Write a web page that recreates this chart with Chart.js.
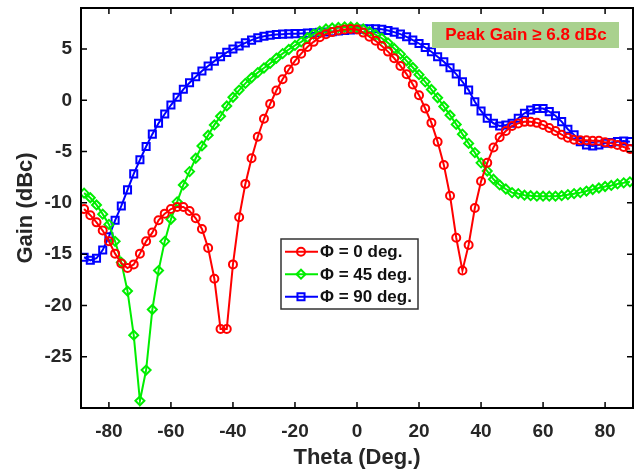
<!DOCTYPE html>
<html>
<head>
<meta charset="utf-8">
<script src="https://cdn.jsdelivr.net/npm/chart.js@4/dist/chart.umd.min.js"></script>
<style>
  body { margin: 0; background: #fff; }
  canvas { display: block; }
</style>
</head>
<body>
<canvas id="gainChart" width="643" height="475"></canvas>
<script>
var theta = [-88, -86, -84, -82, -80, -78, -76, -74, -72, -70, -68, -66, -64, -62, -60, -58, -56, -54, -52, -50,
    -48, -46, -44, -42, -40, -38, -36, -34, -32, -30, -28, -26, -24, -22, -20, -18, -16, -14, -12, -10,
    -8, -6, -4, -2, 0, 2, 4, 6, 8, 10, 12, 14, 16, 18, 20, 22, 24, 26, 28, 30,
    32, 34, 36, 38, 40, 42, 44, 46, 48, 50, 52, 54, 56, 58, 60, 62, 64, 66, 68, 70,
    72, 74, 76, 78, 80, 82, 84, 86, 88];

var gainPhi0 = [-10.6, -11.2, -11.9, -12.7, -13.75, -14.95, -15.9, -16.35, -16.0, -14.95, -13.75, -12.9, -11.7, -11.05, -10.6, -10.4, -10.4, -10.8, -11.5, -12.55,
    -14.4, -17.4, -22.3, -22.3, -16.0, -11.4, -8.15, -5.65, -3.55, -1.8, -0.35, 0.95, 2.05, 3.0, 3.85, 4.55, 5.2, 5.7, 6.15, 6.45,
    6.65, 6.8, 6.9, 6.95, 6.9, 6.6, 6.2, 5.8, 5.3, 4.75, 4.1, 3.35, 2.55, 1.55, 0.5, -0.8, -2.2, -4.05, -6.3, -9.3,
    -13.4, -16.6, -14.1, -10.5, -7.9, -6.1, -4.6, -3.6, -3.0, -2.5, -2.25, -2.1, -2.1, -2.2, -2.4, -2.7, -3.0, -3.35, -3.65, -3.85,
    -3.9, -3.9, -3.95, -3.95, -4.1, -4.2, -4.35, -4.55, -4.75];

var gainPhi45 = [-9.05, -9.5, -10.2, -11.1, -12.1, -13.75, -15.8, -18.6, -22.9, -29.3, -26.3, -20.4, -16.6, -13.75, -11.6, -9.9, -8.25, -6.95, -5.65, -4.45,
    -3.4, -2.4, -1.55, -0.55, 0.3, 1.0, 1.65, 2.2, 2.7, 3.15, 3.6, 4.1, 4.55, 4.95, 5.35, 5.7, 6.1, 6.45, 6.75, 6.95,
    7.05, 7.1, 7.15, 7.15, 7.1, 6.95, 6.7, 6.4, 6.05, 5.6, 5.05, 4.5, 3.85, 3.2, 2.5, 1.8, 1.05, 0.25, -0.6, -1.45,
    -2.35, -3.3, -4.2, -5.1, -6.1, -6.9, -7.7, -8.25, -8.65, -9.0, -9.1, -9.25, -9.3, -9.35, -9.35, -9.35, -9.35, -9.3, -9.2, -9.1,
    -9.0, -8.85, -8.7, -8.55, -8.4, -8.3, -8.15, -8.05, -7.95];

var gainPhi90 = [-15.3, -15.6, -15.4, -14.6, -13.3, -11.7, -10.3, -8.73, -7.17, -5.8, -4.5, -3.3, -2.24, -1.33, -0.46, 0.29, 1.07, 1.71, 2.3, 2.85,
    3.34, 3.82, 4.24, 4.67, 5.0, 5.3, 5.6, 5.87, 6.1, 6.25, 6.35, 6.42, 6.45, 6.48, 6.5, 6.52, 6.55, 6.58, 6.62, 6.66,
    6.7, 6.75, 6.8, 6.85, 6.9, 6.95, 6.98, 6.98, 6.92, 6.8, 6.65, 6.45, 6.19, 5.87, 5.54, 5.15, 4.73, 4.24, 3.76, 3.17,
    2.56, 1.81, 1.0, -0.14, -1.04, -1.75, -2.24, -2.5, -2.4, -2.24, -1.75, -1.27, -0.94, -0.8, -0.8, -1.1, -1.5, -2.08, -2.82, -3.37,
    -4.03, -4.35, -4.45, -4.35, -4.19, -4.12, -4.03, -3.96, -4.03];

var xTicks = [-80, -60, -40, -20, 0, 20, 40, 60, 80];
var yTicks = [-25, -20, -15, -10, -5, 0, 5];
var seriesNames = ['Φ = 0 deg.', 'Φ = 45 deg.', 'Φ = 90 deg.'];
var noteText = 'Peak Gain ≥ 6.8 dBc';

var FONT = '"Liberation Sans", Arial, sans-serif';

function toPoints(ys) {
    return ys.map(function(y, i) { return { x: theta[i], y: y }; });
}

function series(label, ys, color, style, radius) {
    return {
        label: label,
        data: toPoints(ys),
        borderColor: color,
        borderWidth: 2,
        pointStyle: style,
        pointRadius: radius,
        pointBorderWidth: 2,
        pointBorderColor: color,
        pointBackgroundColor: 'rgba(255,255,255,0)',
        tension: 0
    };
}

// box with inward ticks, legend inside the plot and the note box
var decorations = {
    id: 'decorations',
    afterDraw: function(chart) {
        var ctx = chart.ctx;
        var a = chart.chartArea;
        var xs = chart.scales.x, ys = chart.scales.y;
        ctx.save();
        ctx.strokeStyle = '#000';
        ctx.lineWidth = 1.5;
        xTicks.forEach(function(v) {
            var px = xs.getPixelForValue(v);
            ctx.beginPath();
            ctx.moveTo(px, a.bottom); ctx.lineTo(px, a.bottom - 6);
            ctx.moveTo(px, a.top); ctx.lineTo(px, a.top + 6);
            ctx.stroke();
        });
        yTicks.forEach(function(v) {
            var py = ys.getPixelForValue(v);
            ctx.beginPath();
            ctx.moveTo(a.left, py); ctx.lineTo(a.left + 6, py);
            ctx.moveTo(a.right, py); ctx.lineTo(a.right - 6, py);
            ctx.stroke();
        });
        ctx.lineWidth = 2;
        ctx.strokeRect(a.left, a.top, a.right - a.left, a.bottom - a.top);

        // legend
        ctx.fillStyle = '#fff';
        ctx.fillRect(281, 239, 137, 70);
        ctx.strokeStyle = '#333';
        ctx.lineWidth = 1.5;
        ctx.strokeRect(281, 239, 137, 70);
        chart.data.datasets.forEach(function(ds, i) {
            var cy = 251.7 + i * 22.5;
            ctx.strokeStyle = ds.borderColor;
            ctx.lineWidth = 2;
            ctx.beginPath();
            ctx.moveTo(285, cy); ctx.lineTo(318, cy);
            ctx.stroke();
            ctx.lineWidth = ds.pointBorderWidth;
            ctx.fillStyle = ds.pointBackgroundColor;
            Chart.helpers.drawPoint(ctx, { pointStyle: ds.pointStyle, radius: ds.pointRadius, borderWidth: ds.pointBorderWidth }, 301, cy);
            ctx.fillStyle = '#111';
            ctx.font = 'bold 17px ' + FONT;
            ctx.textBaseline = 'middle';
            ctx.textAlign = 'left';
            ctx.fillText(ds.label, 320, cy + 1);
        });

        // note
        ctx.fillStyle = '#a9d18e';
        ctx.fillRect(432, 22, 187, 26);
        ctx.fillStyle = '#ff0000';
        ctx.font = 'bold 17px ' + FONT;
        ctx.textAlign = 'center';
        ctx.textBaseline = 'middle';
        ctx.fillText(noteText, 526, 35);
        ctx.restore();
    }
};

window.onload = function() {
    var ctx = document.getElementById('gainChart').getContext('2d');
    new Chart(ctx, {
        type: 'line',
        data: {
            datasets: [
                series(seriesNames[0], gainPhi0, '#ff0000', 'circle', 4),
                series(seriesNames[1], gainPhi45, '#00ee00', 'rectRot', 4.5),
                series(seriesNames[2], gainPhi90, '#0000ff', 'rect', 5)
            ]
        },
        options: {
            responsive: false,
            animation: false,
            layout: { padding: { top: 8, right: 10, left: 0, bottom: 0 } },
            plugins: {
                legend: { display: false },
                tooltip: { enabled: false }
            },
            scales: {
                x: {
                    type: 'linear',
                    min: -89,
                    max: 89,
                    grid: { display: false },
                    border: { display: false },
                    afterBuildTicks: function(scale) {
                        scale.ticks = xTicks.map(function(v) { return { value: v }; });
                    },
                    afterFit: function(scale) {
                        scale.height = 67;
                        scale.paddingLeft = 0;
                        scale.paddingRight = 0;
                    },
                    ticks: {
                        color: '#262626',
                        padding: 4,
                        font: { family: FONT, size: 19, weight: 'bold' }
                    },
                    title: {
                        display: true,
                        text: 'Theta (Deg.)',
                        color: '#262626',
                        padding: { top: 0, bottom: 4 },
                        font: { family: FONT, size: 22, weight: 'bold' }
                    }
                },
                y: {
                    type: 'linear',
                    min: -30,
                    max: 9,
                    grid: { display: false },
                    border: { display: false },
                    afterBuildTicks: function(scale) {
                        scale.ticks = yTicks.map(function(v) { return { value: v }; });
                    },
                    afterFit: function(scale) {
                        scale.width = 81;
                        scale.paddingTop = 0;
                        scale.paddingBottom = 0;
                    },
                    ticks: {
                        color: '#262626',
                        padding: 1,
                        font: { family: FONT, size: 19, weight: 'bold' }
                    },
                    title: {
                        display: true,
                        text: 'Gain (dBc)',
                        color: '#262626',
                        padding: { top: 13, bottom: 0 },
                        font: { family: FONT, size: 22, weight: 'bold' }
                    }
                }
            }
        },
        plugins: [decorations]
    });
};
</script>
</body>
</html>
